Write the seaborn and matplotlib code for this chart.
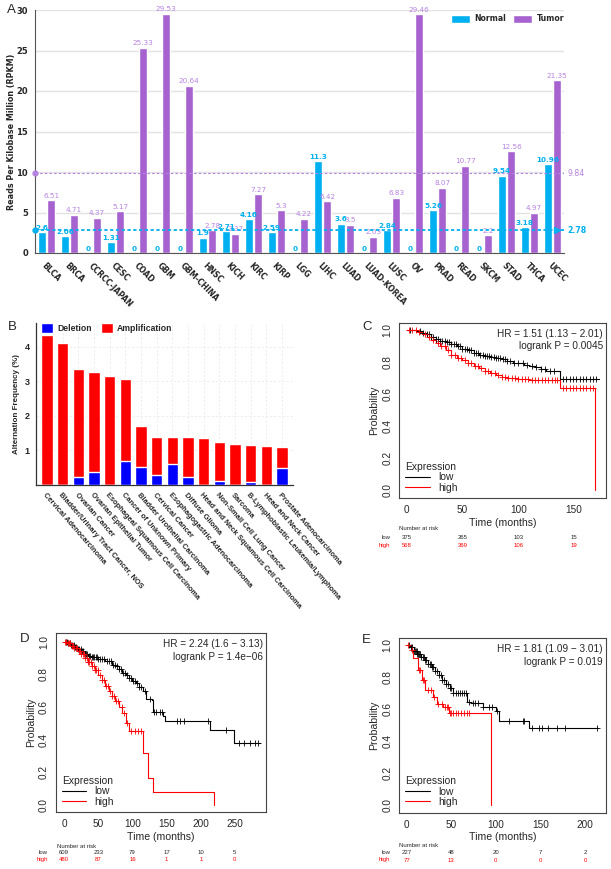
import numpy as np
import pandas as pd
import matplotlib
matplotlib.use("Agg")
import matplotlib.pyplot as plt
import matplotlib.transforms as mtrans
from matplotlib.patches import Patch
from matplotlib.lines import Line2D
import seaborn as sns

# ---------------- panel A: expression per cancer type (RPKM)
cancers = ["BLCA", "BRCA", "CCRCC-JAPAN", "CESC", "COAD", "GBM", "GBM-CHINA", "HNSC",
           "KICH", "KIRC", "KIRP", "LGG", "LIHC", "LUAD", "LUAD-KOREA", "LUSC", "OV",
           "PRAD", "READ", "SKCM", "STAD", "THCA", "UCEC"]
normal_vals = [2.6, 2.06, 0, 1.31, 0, 0, 0, 1.9, 2.71, 4.16, 2.59, 0, 11.3, 3.6, 0,
               2.84, 0, 5.26, 0, 0, 9.54, 3.18, 10.96]
tumor_vals = [6.51, 4.71, 4.37, 5.17, 25.33, 29.53, 20.64, 2.78, 2.37, 7.27, 5.3, 4.22,
              6.42, 3.5, 2.03, 6.83, 29.46, 8.07, 10.77, 2.2, 12.56, 4.97, 21.35]
normal_median = 2.78
tumor_median = 9.84

# ---------------- panel B: copy number alteration frequency (%)
cnv_types = ["Cervical Adenocarcinoma", "Bladder/Urinary Tract Cancer, NOS", "Ovarian Cancer",
             "Ovarian Epithelial Tumor", "Esophageal Squamous Cell Carcinoma",
             "Cancer of Unknown Primary", "Bladder Urothelial Carcinoma", "Cervical Cancer",
             "Esophagogastric Adenocarcinoma", "Diffuse Glioma",
             "Head and Neck Squamous Cell Carcinoma", "Non-Small Cell Lung Cancer", "Sarcoma",
             "B-Lymphoblastic Leukemia/Lymphoma", "Head and Neck Cancer", "Prostate Adenocarcinoma"]
deletion = [0, 0, 0.23, 0.36, 0, 0.68, 0.51, 0.29, 0.60, 0.21, 0, 0.10, 0, 0.06, 0, 0.48]
amplification = [4.34, 4.11, 3.12, 2.90, 3.16, 2.39, 1.20, 1.10, 0.77, 1.16, 1.34, 1.14,
                 1.18, 1.09, 1.11, 0.61]

# ---------------- panel C: KM curves
c_low_t = [0, 8, 14, 18, 22, 26, 30, 35, 40, 45, 50, 55, 60, 65, 70, 75, 80, 85, 90, 95,
           100, 105, 110, 115, 120, 125, 130, 137, 172]
c_low_s = [1.0, 0.99, 0.98, 0.97, 0.955, 0.94, 0.93, 0.92, 0.91, 0.895, 0.88, 0.87, 0.855,
           0.845, 0.835, 0.83, 0.825, 0.815, 0.805, 0.795, 0.79, 0.78, 0.775, 0.765, 0.755,
           0.745, 0.74, 0.695, 0.695]
c_low_cens = [3, 12, 15, 18, 20, 22, 24, 26, 28, 30, 32, 34, 36, 38, 40, 42, 44, 46, 48, 50,
              52, 54, 56, 58, 60, 62, 64, 66, 68, 70, 72, 74, 76, 78, 80, 82, 84, 86, 88, 90,
              93, 96, 100, 104, 108, 112, 116, 120, 124, 128, 132, 140, 143, 146, 149, 152,
              155, 158, 161, 164, 167, 170]
c_high_t = [0, 6, 10, 14, 18, 22, 26, 30, 35, 40, 45, 50, 55, 60, 65, 70, 75, 80, 85, 90,
            100, 110, 120, 137, 169]
c_high_s = [1.0, 0.995, 0.985, 0.97, 0.955, 0.935, 0.915, 0.895, 0.87, 0.845, 0.825, 0.81,
            0.795, 0.775, 0.76, 0.745, 0.73, 0.715, 0.705, 0.70, 0.69, 0.686, 0.684, 0.636, 0.0]
c_high_cens = [2, 5, 8, 11, 16, 20, 24, 28, 31, 34, 37, 40, 43, 46, 49, 52, 55, 58, 61, 64,
               67, 70, 73, 76, 79, 82, 85, 88, 91, 94, 97, 100, 103, 106, 109, 112, 115, 118,
               121, 124, 127, 130, 133, 135, 140, 143, 146, 149, 152, 155, 158, 161, 164, 167]
c_risk_t = [0, 50, 100, 150]
c_risk_low = [375, 265, 103, 15]
c_risk_high = [568, 369, 106, 19]

# ---------------- panel D
d_low_t = [0, 5, 10, 15, 20, 25, 30, 35, 40, 50, 60, 70, 75, 80, 85, 90, 95, 100, 105, 110,
           115, 120, 128, 130, 145, 148, 213, 248, 287]
d_low_s = [1.0, 0.99, 0.98, 0.965, 0.955, 0.94, 0.925, 0.915, 0.905, 0.895, 0.88, 0.86,
           0.85, 0.83, 0.81, 0.795, 0.775, 0.76, 0.745, 0.725, 0.70, 0.65, 0.645, 0.57, 0.545,
           0.515, 0.46, 0.38, 0.38]
d_low_cens = [2, 4, 6, 8, 10, 12, 14, 16, 18, 20, 22, 24, 26, 28, 30, 32, 34, 36, 38, 40, 42,
              44, 46, 48, 50, 53, 56, 59, 62, 65, 68, 71, 74, 77, 80, 83, 86, 89, 92, 95, 98,
              101, 104, 107, 110, 113, 118, 125, 132, 135, 140, 143, 165, 170, 175, 210, 237,
              256, 263, 272, 280, 284]
d_high_t = [0, 5, 10, 15, 20, 25, 30, 35, 40, 45, 50, 55, 60, 65, 70, 75, 80, 85, 90, 95,
            115, 122, 130, 220]
d_high_s = [1.0, 0.99, 0.975, 0.96, 0.945, 0.925, 0.90, 0.875, 0.85, 0.825, 0.795, 0.765,
            0.73, 0.70, 0.67, 0.635, 0.60, 0.565, 0.50, 0.455, 0.32, 0.165, 0.08, 0.0]
d_high_cens = [1, 3, 5, 7, 9, 11, 13, 15, 17, 19, 21, 23, 25, 27, 29, 31, 33, 35, 37, 39,
               41, 43, 45, 47, 49, 52, 55, 58, 61, 64, 67, 70, 73, 76, 79, 84, 87, 92, 98,
               103, 108, 112]
d_risk_t = [0, 50, 100, 150, 200, 250]
d_risk_low = [609, 233, 79, 17, 10, 5]
d_risk_high = [480, 87, 16, 1, 1, 0]

# ---------------- panel E
e_low_t = [0, 4, 8, 12, 16, 20, 24, 28, 32, 36, 40, 44, 48, 52, 68, 72, 86, 100, 103, 137, 214]
e_low_s = [1.0, 0.985, 0.965, 0.945, 0.925, 0.905, 0.88, 0.86, 0.835, 0.81, 0.78, 0.755,
           0.73, 0.70, 0.645, 0.635, 0.61, 0.585, 0.525, 0.483, 0.483]
e_low_cens = [3, 5, 6, 8, 9, 10, 11, 12, 13, 14, 15, 16, 18, 19, 20, 22, 24, 26, 27, 28, 30,
              32, 34, 36, 38, 40, 42, 44, 46, 48, 50, 52, 55, 58, 60, 62, 64, 66, 70, 74, 77,
              80, 86, 92, 96, 101, 115, 130, 132, 140, 148, 152, 158, 168, 178, 213]
e_high_t = [0, 5, 7, 13, 17, 20, 30, 34, 41, 47, 95]
e_high_s = [1.0, 0.97, 0.92, 0.845, 0.78, 0.72, 0.677, 0.631, 0.61, 0.577, 0.0]
e_high_cens = [2, 6, 14, 15, 18, 19, 24, 27, 31, 35, 40, 43, 45, 46, 48, 50, 52, 55, 58,
               61, 64, 68, 70]
e_risk_t = [0, 50, 100, 150, 200]
e_risk_low = [227, 48, 20, 7, 2]
e_risk_high = [77, 13, 0, 0, 0]

W, H = 611, 869
CYAN = "#00b0f0"
PURPLE = "#a663d0"
PURPLE_TXT = "#b783e0"


def rect(l, t, r, b):
    return [l / W, 1 - b / H, (r - l) / W, (b - t) / H]


def step_at(times, surv, pts):
    idx = np.searchsorted(times, pts, side="right") - 1
    return np.asarray(surv)[idx]


sns.set_style("white")
plt.rcParams["font.family"] = ["Liberation Sans", "DejaVu Sans"]

fig = plt.figure(figsize=(W / 100, H / 100), dpi=100)

# ================= Panel A
axA = fig.add_axes(rect(35, 10, 564, 253))
dfA = pd.DataFrame({
    "cancer": cancers * 2,
    "group": ["Normal"] * len(cancers) + ["Tumor"] * len(cancers),
    "value": normal_vals + tumor_vals,
})
sns.barplot(data=dfA, x="cancer", y="value", hue="group", palette={"Normal": CYAN, "Tumor": PURPLE},
            width=0.8, gap=0.15, ax=axA, legend=False, saturation=1, errorbar=None)
axA.set_xlim(-0.5, len(cancers) - 0.5)
axA.set_ylim(0, 30)
axA.set_yticks([0, 5, 10, 15, 20, 25, 30])
axA.yaxis.grid(True, color="#e3e3e3", lw=1.0)
axA.set_axisbelow(True)
for s in ["top", "right"]:
    axA.spines[s].set_visible(False)
for s in ["left", "bottom"]:
    axA.spines[s].set_color("#555555")
    axA.spines[s].set_linewidth(0.8)
axA.tick_params(axis="y", length=3, width=0.7, color="#555555", pad=2, labelsize=6)
for lab in axA.get_yticklabels():
    lab.set_fontweight("bold")
    lab.set_family("DejaVu Sans")
axA.set_xticks(range(len(cancers)))
axA.set_xticklabels(cancers, rotation=-45, ha="left", va="top", rotation_mode="anchor",
                    fontsize=5.6, fontweight="bold", family="DejaVu Sans")
axA.tick_params(axis="x", which="major", length=0, pad=6)
axA.set_xticks(np.arange(-0.5, len(cancers), 1.0), minor=True)
axA.tick_params(axis="x", which="minor", length=3, width=0.7, color="#555555")
axA.set_xlabel("")
axA.set_ylabel("Reads Per Kilobase Million (RPKM)", fontsize=5.8, fontweight="bold",
               family="DejaVu Sans", labelpad=0)

axA.bar_label(axA.containers[0], labels=[f"{v:g}" for v in normal_vals], padding=1,
              color=CYAN, fontsize=5.2, fontweight="bold", family="DejaVu Sans")
axA.bar_label(axA.containers[1], labels=[f"{v:g}" for v in tumor_vals], padding=1,
              color=PURPLE_TXT, fontsize=5.2, family="DejaVu Sans")

axA.plot([-0.5, len(cancers) - 0.5], [tumor_median] * 2, ls=(0, (2.2, 2.0)), lw=0.8,
         color=PURPLE_TXT, zorder=1)
axA.plot([-0.5, len(cancers) - 0.5], [normal_median] * 2, ls=(0, (1.8, 1.4)), lw=1.3,
         color=CYAN, zorder=3)
axA.plot([-0.5], [tumor_median], "o", ms=3.5, color=PURPLE_TXT, clip_on=False, zorder=4)
axA.plot([-0.5], [normal_median], "o", ms=3.5, color=CYAN, clip_on=False, zorder=4)
axA.plot([22.2], [normal_median], ">", ms=4.5, color=CYAN, clip_on=False, zorder=4)
tA = mtrans.blended_transform_factory(axA.transAxes, axA.transData)
axA.text(1.006, tumor_median, f"{tumor_median:.2f}", transform=tA, color=PURPLE_TXT,
         fontsize=5.6, va="center", ha="left", family="DejaVu Sans")
axA.text(1.006, normal_median, f"{normal_median:.2f}", transform=tA, color=CYAN,
         fontsize=5.6, va="center", ha="left", fontweight="bold", family="DejaVu Sans")
axA.legend(handles=[Patch(facecolor=CYAN, label="Normal"), Patch(facecolor=PURPLE, label="Tumor")],
           loc="upper right", bbox_to_anchor=(1.0, 0.982), frameon=False, ncol=2,
           prop={"family": "DejaVu Sans", "weight": "bold", "size": 5.6},
           handlelength=2.4, handleheight=1.3, columnspacing=0.9, handletextpad=0.6,
           borderaxespad=0, borderpad=0)
fig.text(7 / W, 1 - 10 / H, "A", fontsize=9.5, va="center", ha="left")

# ================= Panel B
axB = fig.add_axes(rect(36, 323, 293, 484.5))
totals = [a + d for a, d in zip(amplification, deletion)]
dfB = pd.DataFrame({"type": cnv_types, "total": totals, "deletion": deletion})
sns.barplot(data=dfB, x="type", y="total", color="#ff0000", saturation=1, width=0.74,
            ax=axB, errorbar=None, zorder=2)
sns.barplot(data=dfB, x="type", y="deletion", color="#0000ff", saturation=1, width=0.74,
            ax=axB, errorbar=None, zorder=3)
axB.set_xlim(-0.7, len(cnv_types) - 0.3)
axB.set_ylim(0, 4.69)
axB.set_yticks([1, 2, 3, 4])
axB.grid(True, color="#ececec", lw=0.6, ls=(0, (3, 2)))
axB.set_axisbelow(True)
for s in ["top", "right"]:
    axB.spines[s].set_visible(False)
for s in ["left", "bottom"]:
    axB.spines[s].set_color("#333333")
    axB.spines[s].set_linewidth(0.9)
axB.tick_params(axis="y", length=2.5, width=0.7, pad=2, labelsize=6.5)
for lab in axB.get_yticklabels():
    lab.set_fontweight("bold")
axB.set_xticks(range(len(cnv_types)))
axB.set_xticklabels(cnv_types, rotation=-49, ha="left", va="top", rotation_mode="anchor",
                    fontsize=5.4, fontweight="bold")
axB.tick_params(axis="x", length=0, pad=5)
axB.set_xlabel("")
axB.set_ylabel("Alternation Frequency (%)", fontsize=5.8, fontweight="bold", labelpad=3)
axB.legend(handles=[Patch(facecolor="#0000ff", label="Deletion"),
                    Patch(facecolor="#ff0000", label="Amplification")],
           loc="upper left", bbox_to_anchor=(0.02, 1.0), frameon=False, ncol=2,
           prop={"weight": "bold", "size": 6.2}, handlelength=1.4, handleheight=1.4,
           columnspacing=1.0, handletextpad=0.5, borderaxespad=0, borderpad=0)
fig.text(8 / W, 1 - 327 / H, "B", fontsize=9.5, va="center", ha="left")


# ================= KM panels
def km_panel(ax, low_t, low_s, low_c, high_t, high_s, high_c, xlim, ylim, xticks,
             hr_lines, risk_t, risk_low, risk_high, risk_y, risk_label_x, risk_head_x):
    sns.lineplot(x=low_t, y=low_s, drawstyle="steps-post", estimator=None, sort=False,
                 color="black", lw=0.8, ax=ax)
    sns.scatterplot(x=low_c, y=step_at(low_t, low_s, low_c), marker="+", s=14,
                    color="black", linewidth=0.6, ax=ax, zorder=3)
    sns.lineplot(x=high_t, y=high_s, drawstyle="steps-post", estimator=None, sort=False,
                 color="#ff0000", lw=0.8, ax=ax)
    sns.scatterplot(x=high_c, y=step_at(high_t, high_s, high_c), marker="+", s=14,
                    color="#ff0000", linewidth=0.6, ax=ax, zorder=4)
    ax.set_xlim(*xlim)
    ax.set_ylim(*ylim)
    ax.set_xticks(xticks)
    ax.set_yticks([0.0, 0.2, 0.4, 0.6, 0.8, 1.0])
    ax.set_yticklabels(["0.0", "0.2", "0.4", "0.6", "0.8", "1.0"], rotation=90, va="center")
    ax.tick_params(length=3, width=0.7, color="#444444", labelsize=7.2, pad=2)
    for s in ax.spines.values():
        s.set_visible(True)
        s.set_color("#444444")
        s.set_linewidth(0.8)
    ax.set_xlabel("Time (months)", fontsize=7.6, labelpad=2)
    ax.set_ylabel("Probability", fontsize=7.6, labelpad=2)
    ax.text(0.985, 0.965, hr_lines[0], transform=ax.transAxes, ha="right", va="top", fontsize=7.2)
    ax.text(0.985, 0.895, hr_lines[1], transform=ax.transAxes, ha="right", va="top", fontsize=7.2)
    ax.legend(handles=[Line2D([], [], color="black", lw=0.8, label="low"),
                       Line2D([], [], color="#ff0000", lw=0.8, label="high")],
              title="Expression", loc="lower left", frameon=False, fontsize=7.4,
              title_fontsize=7.4, alignment="left", handlelength=2.4, labelspacing=0.05,
              borderaxespad=0.25, borderpad=0.3, handletextpad=0.8)
    tr = mtrans.blended_transform_factory(ax.transData, fig.transFigure)
    fig.text(risk_head_x / W, 1 - risk_y[0] / H, "Number at risk", fontsize=4.3,
             ha="left", va="center")
    fig.text(risk_label_x / W, 1 - risk_y[1] / H, "low", fontsize=4.3, ha="right", va="center")
    fig.text(risk_label_x / W, 1 - risk_y[2] / H, "high", fontsize=4.3, ha="right",
             va="center", color="#ff0000")
    for t, lo, hi in zip(risk_t, risk_low, risk_high):
        ax.text(t, 1 - risk_y[1] / H, str(lo), transform=tr, fontsize=4.3, ha="center", va="center")
        ax.text(t, 1 - risk_y[2] / H, str(hi), transform=tr, fontsize=4.3, ha="center",
                va="center", color="#ff0000")


axC = fig.add_axes(rect(399.3, 322.7, 606, 498.3))
km_panel(axC, c_low_t, c_low_s, c_low_cens, c_high_t, c_high_s, c_high_cens,
         (-6.6, 178.6), (-0.05, 1.043), [0, 50, 100, 150],
         ["HR = 1.51 (1.13 \u2212 2.01)", "logrank P = 0.0045"],
         c_risk_t, c_risk_low, c_risk_high, (529, 537.6, 545.3), 390.5, 399)
fig.text(362 / W, 1 - 327 / H, "C", fontsize=9.5, va="center", ha="left")

axD = fig.add_axes(rect(56, 632.7, 266, 812.3))
km_panel(axD, d_low_t, d_low_s, d_low_cens, d_high_t, d_high_s, d_high_cens,
         (-12, 295.5), (-0.045, 1.055), [0, 50, 100, 150, 200, 250],
         ["HR = 2.24 (1.6 \u2212 3.13)", "logrank P = 1.4e\u221206"],
         d_risk_t, d_risk_low, d_risk_high, (846, 852.3, 859.3), 48, 56.7)
fig.text(20 / W, 1 - 639 / H, "D", fontsize=9.5, va="center", ha="left")

axE = fig.add_axes(rect(399.3, 638.3, 606, 812.7))
km_panel(axE, e_low_t, e_low_s, e_low_cens, e_high_t, e_high_s, e_high_cens,
         (-8.3, 223.4), (-0.048, 1.042), [0, 50, 100, 150, 200],
         ["HR = 1.81 (1.09 \u2212 3.01)", "logrank P = 0.019"],
         e_risk_t, e_risk_low, e_risk_high, (845.3, 852.7, 860), 390.5, 399)
fig.text(362 / W, 1 - 640 / H, "E", fontsize=9.5, va="center", ha="left")

fig.savefig("out.png", dpi=100)
